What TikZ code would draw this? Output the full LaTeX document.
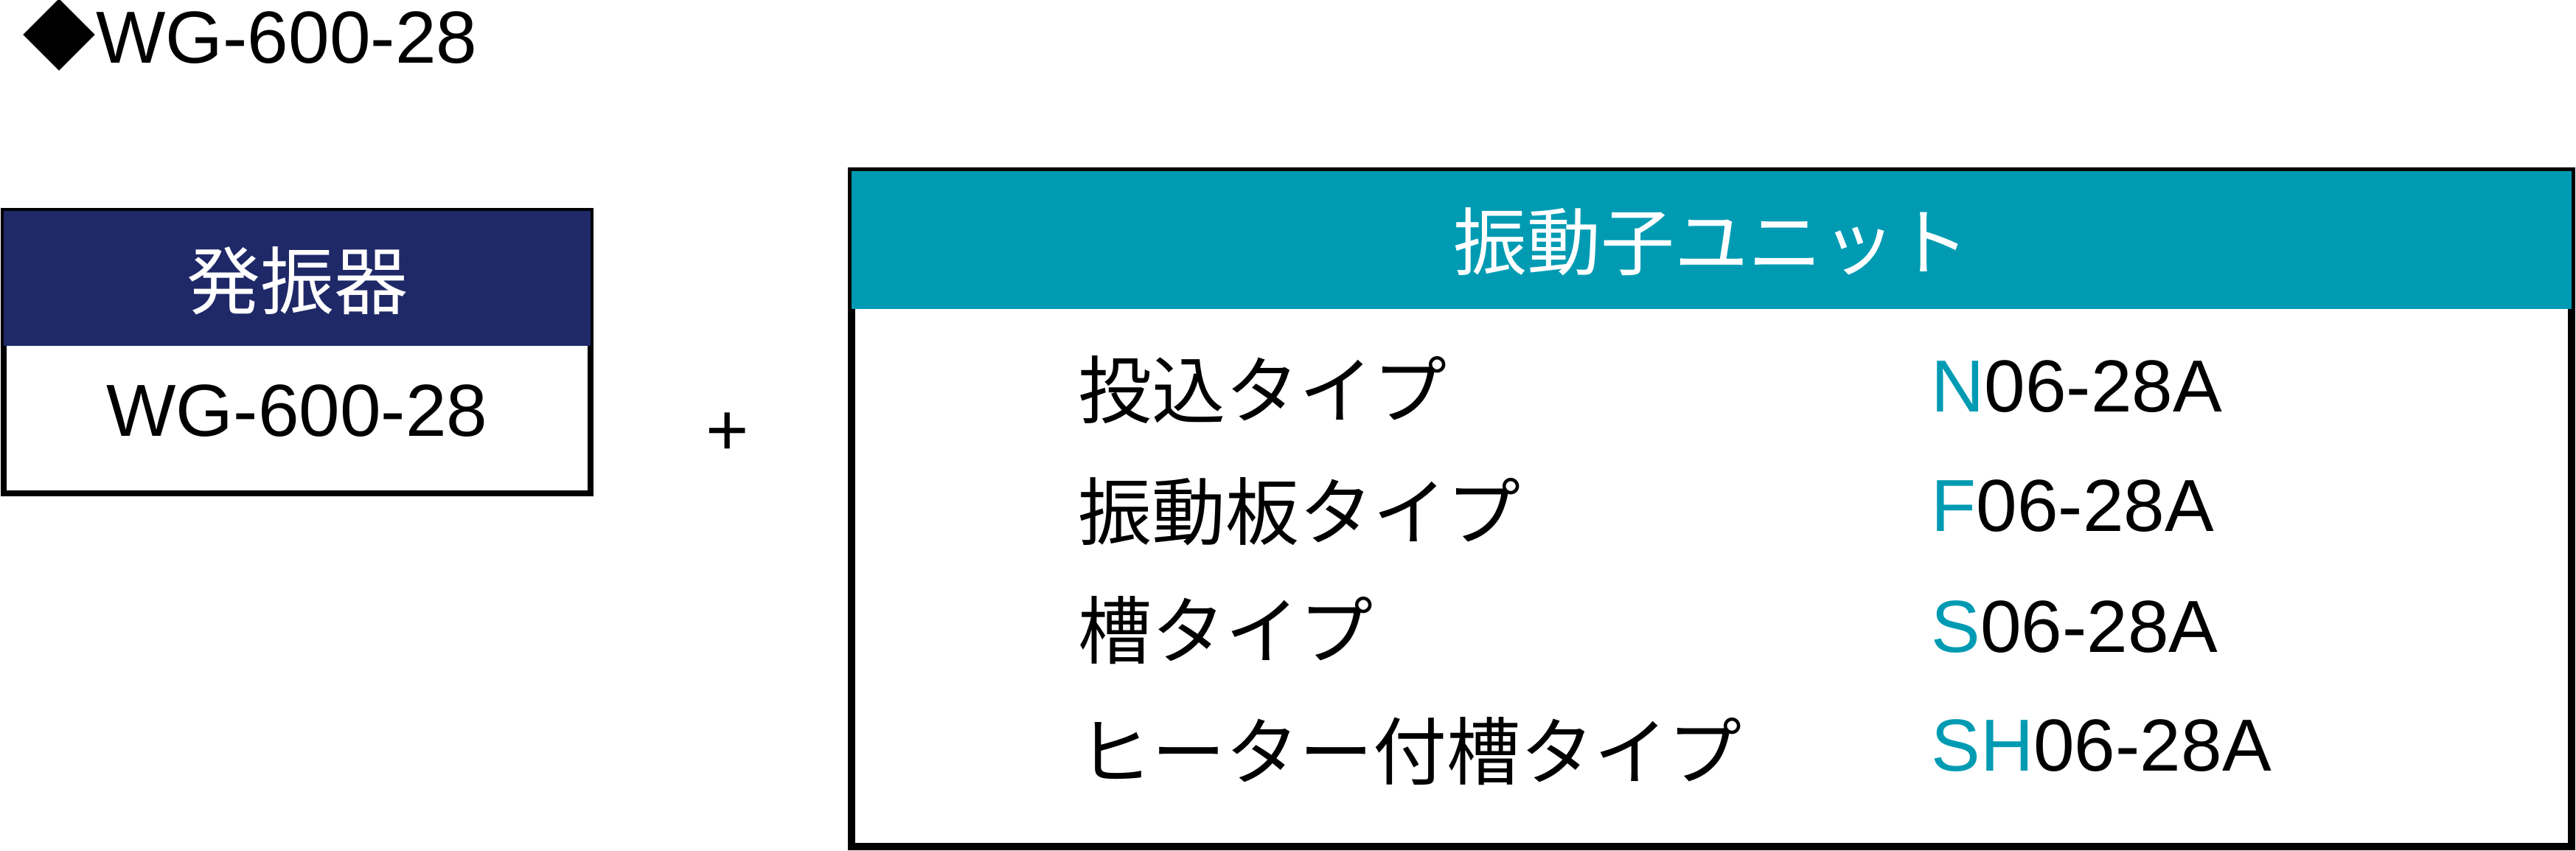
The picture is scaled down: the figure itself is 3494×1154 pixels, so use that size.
\documentclass[tikz,border=0pt]{standalone}
\usepackage{fontspec}
\setmainfont{Liberation Sans}
\newfontfamily\cjk{Noto Sans CJK JP}
\definecolor{gennavy}{RGB}{31,41,104}
\definecolor{unitteal}{RGB}{0,155,179}
\begin{document}
\begin{tikzpicture}[x=0.5pt,y=-0.5pt,
  txt/.style={inner sep=0pt, font=\fontsize{50}{60}\selectfont},
  jtxt/.style={inner sep=0pt, font=\fontsize{50}{60}\selectfont\cjk},
  hl/.style={text=unitteal}]
\useasboundingbox (0,0) rectangle (3494,1154);
% generator box
\draw[line width=4pt] (5,286) rectangle (801,669);
\fill[gennavy] (5,286) rectangle (801,469);
% unit box
\draw[line width=5pt] (1155,232) rectangle (3488,1148);
\fill[unitteal] (1155,232) rectangle (3488,419);
% texts
\node[txt, anchor=base west] (title) at (30,86) {{\cjk ◆}WG-600-28};
\node[jtxt, anchor=base, text=white] (hdrL) at (403,419) {発振器};
\node[txt, anchor=base] (gen) at (403,591) {WG-600-28};
\node[txt, anchor=base] (plus) at (987,617) {+};
\node[jtxt, anchor=base, text=white] (hdrR) at (2321,366) {振動子ユニット};
\node[jtxt, anchor=base west] (r1) at (1462,567) {投込タイプ};
\node[jtxt, anchor=base west] (r2) at (1462,731) {振動板タイプ};
\node[jtxt, anchor=base west] (r3) at (1462,892) {槽タイプ};
\node[jtxt, anchor=base west] (r4) at (1462,1056) {ヒーター付槽タイプ};
\node[txt, anchor=base west] (c1) at (2619,559) {\textcolor{unitteal}{N}06-28A};
\node[txt, anchor=base west] (c2) at (2619,720) {\textcolor{unitteal}{F}06-28A};
\node[txt, anchor=base west] (c3) at (2619,884) {\textcolor{unitteal}{S}06-28A};
\node[txt, anchor=base west] (c4) at (2619,1045) {\textcolor{unitteal}{SH}06-28A};
\end{tikzpicture}
\end{document}
